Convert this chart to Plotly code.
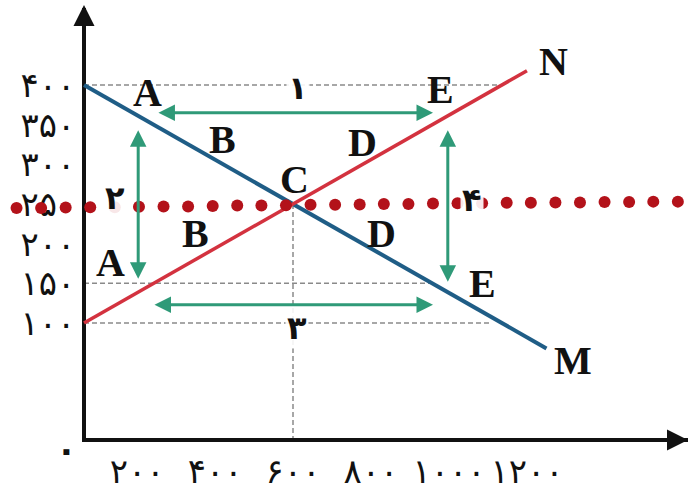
import plotly.graph_objects as go

# ---- data (schematic supply/demand diagram) ----
demand_M_x = [64, 1250]
demand_M_y = [400, 68]
supply_N_x = [64, 1200]
supply_N_y = [100, 418]

y_tick_vals = [100, 150, 200, 250, 300, 350, 400]
y_tick_text = ["۱۰۰", "۱۵۰", "۲۰۰", "۲۵۰", "۳۰۰", "۳۵۰", "۴۰۰"]
x_tick_vals = [200, 400, 600, 800, 1000, 1200]
x_tick_text = ["۲۰۰", "۴۰۰", "۶۰۰", "۸۰۰", "۱۰۰۰", "۱۲۰۰"]

# dashed guide lines
guide_400_x = [64, 1136]
guide_400_y = [400, 400]
guide_150_x = [64, 957]
guide_150_y = [150, 150]
guide_100_x = [64, 1110]
guide_100_y = [100, 100]
guide_v600_x = [600, 600]
guide_v600_y = [250, -47.5]

# green double-headed arrows: (x_start, y_start, x_end, y_end)
arrow_1 = [251, 365, 959, 365]
arrow_2 = [203, 154, 203, 343]
arrow_3 = [241, 123, 959, 123]
arrow_4 = [997, 150, 997, 343]

# point labels
letter_text = ["A", "B", "D", "C", "E", "N", "B", "A", "D", "E", "M"]
letter_x = [228, 420, 779, 605, 977, 1267, 349, 131, 828, 1087, 1318]
letter_y = [391, 331, 327, 281, 394, 430, 213, 176, 213, 150, 53]

number_text = ["۱", "۲", "۳", "۴"]
number_x = [614, 144, 610, 1059]
number_y = [396, 258, 94, 255]

# red dotted overlay
dots_x = [-109, -46, 17, 80, 143, 205, 268, 331, 394, 457, 519, 582, 645, 708,
          771, 833, 896, 959, 1022, 1085, 1148, 1210, 1273, 1336, 1399, 1462, 1524, 1587]
dots_y = [245, 245, 245.5, 246, 246, 246.5, 247, 247, 247.5, 248, 248, 248.5, 249, 249,
          249.5, 250, 250, 250.5, 251, 251, 251.5, 251.5, 252, 252, 252.5, 252.5, 253, 253]

# ---- layout geometry ----
W, H = 690, 491
UX = 2.5646          # x units per pixel
UY = 1.2604          # y units per pixel
X0 = 600 - 293 * UX  # x value at left edge of figure
Y1 = 400 + 85 * UY   # y value at top edge of figure

def xv(px):
    return X0 + px * UX

def yv(py):
    return Y1 - py * UY

PL, PR, PT, PB = 86, 688, 8, 438   # main plot area (pixels)

BLUE = "#1f5d86"
RED = "#d3323f"
GREEN = "#2f9a78"
GREY = "#8a8a8a"
INK = "#111111"

fig = go.Figure()

# dashed guides on the main axes
for gx, gy in [(guide_400_x, guide_400_y), (guide_150_x, guide_150_y),
               (guide_100_x, guide_100_y), (guide_v600_x, guide_v600_y)]:
    fig.add_trace(go.Scatter(x=gx, y=gy, mode="lines", xaxis="x", yaxis="y",
                             line=dict(color=GREY, width=1.5, dash="5px,3px"),
                             hoverinfo="skip", showlegend=False))

full = dict(xaxis="x2", yaxis="y2", hoverinfo="skip", showlegend=False)

fig.add_trace(go.Scatter(x=demand_M_x, y=demand_M_y, mode="lines",
                         line=dict(color=BLUE, width=4), **full))
fig.add_trace(go.Scatter(x=supply_N_x, y=supply_N_y, mode="lines",
                         line=dict(color=RED, width=3.5), **full))

fig.add_trace(go.Scatter(x=dots_x, y=dots_y, mode="markers",
                         marker=dict(color="#b3121a", size=12),
                         cliponaxis=False, **full))

annotations = []
for a in [arrow_1, arrow_2, arrow_3, arrow_4]:
    annotations.append(dict(x=a[2], y=a[3], ax=a[0], ay=a[1], xref="x2", yref="y2",
                            axref="x2", ayref="y2", text="", showarrow=True,
                            arrowhead=2, arrowside="end+start", arrowsize=1.1,
                            arrowwidth=3, arrowcolor=GREEN))

for t, x, y in zip(letter_text, letter_x, letter_y):
    annotations.append(dict(x=x, y=y, xref="x2", yref="y2", text="<b>%s</b>" % t,
                            showarrow=False,
                            font=dict(family="Liberation Serif", size=40, color=INK)))

for t, x, y in zip(number_text, number_x, number_y):
    annotations.append(dict(x=x, y=y, xref="x2", yref="y2", text="<b>%s</b>" % t,
                            showarrow=False, bgcolor="rgba(255,255,255,0.9)",
                            font=dict(family="DejaVu Sans", size=32, color=INK)))

# origin label
annotations.append(dict(x=xv(66), y=yv(450), xref="x2", yref="y2", text="<b>۰</b>",
                        showarrow=False,
                        font=dict(family="DejaVu Sans", size=34, color=INK)))

# axis arrowheads
annotations.append(dict(x=xv(688), y=yv(440), xref="x2", yref="y2", ax=-24, ay=0,
                        text="", showarrow=True, arrowhead=2, arrowsize=1.2,
                        arrowwidth=3.5, arrowcolor=INK))
annotations.append(dict(x=xv(84), y=yv(5), xref="x2", yref="y2", ax=0, ay=24,
                        text="", showarrow=True, arrowhead=2, arrowsize=1.2,
                        arrowwidth=3.5, arrowcolor=INK))

fig.update_layout(
    width=W, height=H,
    margin=dict(l=0, r=0, t=0, b=0),
    plot_bgcolor="rgba(0,0,0,0)", paper_bgcolor="white",
    annotations=annotations,
    showlegend=False,
    xaxis=dict(domain=[PL / W, PR / W], range=[xv(PL), xv(PR)], anchor="y",
               showgrid=False, zeroline=False, showline=True,
               linecolor=INK, linewidth=4, tickvals=x_tick_vals, ticktext=x_tick_text,
               ticks="", layer="below traces", fixedrange=True,
               tickfont=dict(family="DejaVu Sans", size=34, color=INK)),
    yaxis=dict(domain=[1 - PB / H, 1 - PT / H], range=[yv(PB), yv(PT)], anchor="x",
               showgrid=False, zeroline=False, showline=True,
               linecolor=INK, linewidth=4, tickvals=y_tick_vals, ticktext=y_tick_text,
               ticks="", layer="below traces", fixedrange=True,
               tickfont=dict(family="DejaVu Sans", size=34, color=INK)),
    xaxis2=dict(domain=[0, 1], range=[xv(0), xv(W)], anchor="y2", visible=False,
                fixedrange=True),
    yaxis2=dict(domain=[0, 1], range=[yv(H), yv(0)], anchor="x2", visible=False,
                fixedrange=True),
)

fig.write_html("out.html", post_script="document.body.style.margin='0';",
               config={"displayModeBar": False})
